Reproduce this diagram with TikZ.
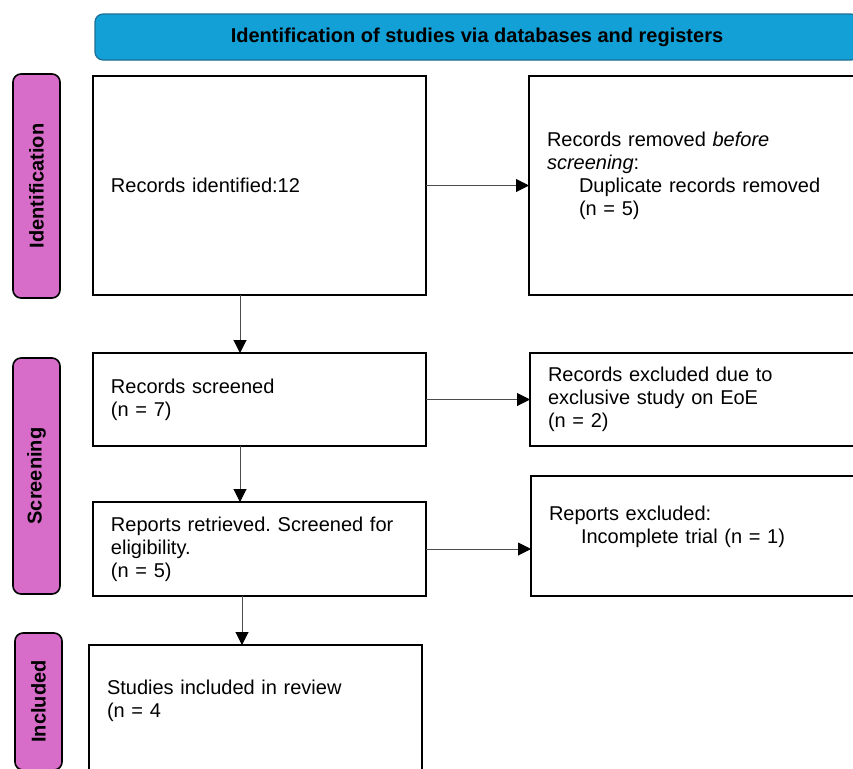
\documentclass[tikz,border=0pt]{standalone}
\usepackage{fontspec}
\setmainfont{Liberation Sans}
\usepackage{graphicx}
\usepackage{xcolor}
\usetikzlibrary{arrows.meta,positioning,calc}
\definecolor{prismablue}{HTML}{13A0D6}
\definecolor{prismaedge}{HTML}{1B6E94}
\definecolor{prismapink}{HTML}{D86CC9}
\frenchspacing

\begin{document}
\begin{tikzpicture}[
  x=1pt, y=1pt,
  banner/.style={rectangle, rounded corners=4pt, draw=prismaedge, fill=prismablue, line width=0.6pt, minimum width=382pt, minimum height=23pt, font=\fontsize{10}{12}\selectfont\bfseries},
  stage/.style={rectangle, rounded corners=4pt, draw=black, fill=prismapink, line width=0.8pt, minimum width=23.5pt, inner sep=0pt, font=\fontsize{10}{12}\selectfont\bfseries},
  box/.style={rectangle, draw=black, line width=0.9pt, outer sep=0pt, text width=148.5pt, inner xsep=9pt, inner ysep=0pt, align=left, font=\fontsize{10}{11.5}\selectfont},
  edge/.style={-{Triangle[length=6.5pt, width=6.5pt, color=black]}, line width=0.5pt, black!70},
]
  \useasboundingbox (0,0) rectangle (426.5,-384);
  \clip (0,0) rectangle (426.5,-384);

  \node[banner] (head) at (238.5,-18.5) {Identification of studies via databases and registers};

  \node[stage, minimum height=112pt] (idstage) at (18.25,-93) {\rotatebox{90}{Identification}};
  \node[stage, minimum height=118pt] (scrstage) at (18.25,-238) {\rotatebox{90}{Screening}};
  \node[stage, minimum height=68.5pt] (incstage) at (19.25,-350.75) {\rotatebox{90}{Included}};

  \node[box, minimum height=109.5pt] (found) at (129.75,-92.75) {Records identified:12};
  \node[box, minimum height=109.5pt, right=51.5pt of found] (dupes) {Records removed \textit{before}\\\textit{screening}:\\\hspace*{16pt}Duplicate records removed\\\hspace*{16pt}(n = 5)\\~};

  \node[box, minimum height=46.5pt, below=29pt of found] (screened) {Records screened\\(n = 7)};
  \node[box, minimum height=46.5pt, right=52pt of screened] (eoe) {Records excluded due to\\exclusive study on EoE\\(n = 2)};

  \node[box, minimum height=47pt, below=28pt of screened] (retrieved) {Reports retrieved. Screened for\\eligibility.\\(n = 5)};
  \node[box, minimum height=60pt, right=52.5pt of retrieved.south east, anchor=south west] (trial) {Reports excluded:\\\hspace*{16pt}Incomplete trial (n = 1)\\~};

  \node[box, minimum height=65pt, below=24.5pt of retrieved.south west, anchor=north west, xshift=-2pt] (included) {Studies included in review\\(n = 4\\~};

  \draw[edge] (found.east) -- (found.east -| dupes.west);
  \draw[edge] (screened.east) -- (screened.east -| eoe.west);
  \draw[edge] (retrieved.east) -- (retrieved.east -| trial.west);
  \draw[edge] ([xshift=-9.75pt]found.south) -- ([xshift=-9.75pt]found.south |- screened.north);
  \draw[edge] ([xshift=-9.75pt]screened.south) -- ([xshift=-9.75pt]screened.south |- retrieved.north);
  \draw[edge] ([xshift=-8.75pt]retrieved.south) -- ([xshift=-8.75pt]retrieved.south |- included.north);
\end{tikzpicture}
\end{document}
